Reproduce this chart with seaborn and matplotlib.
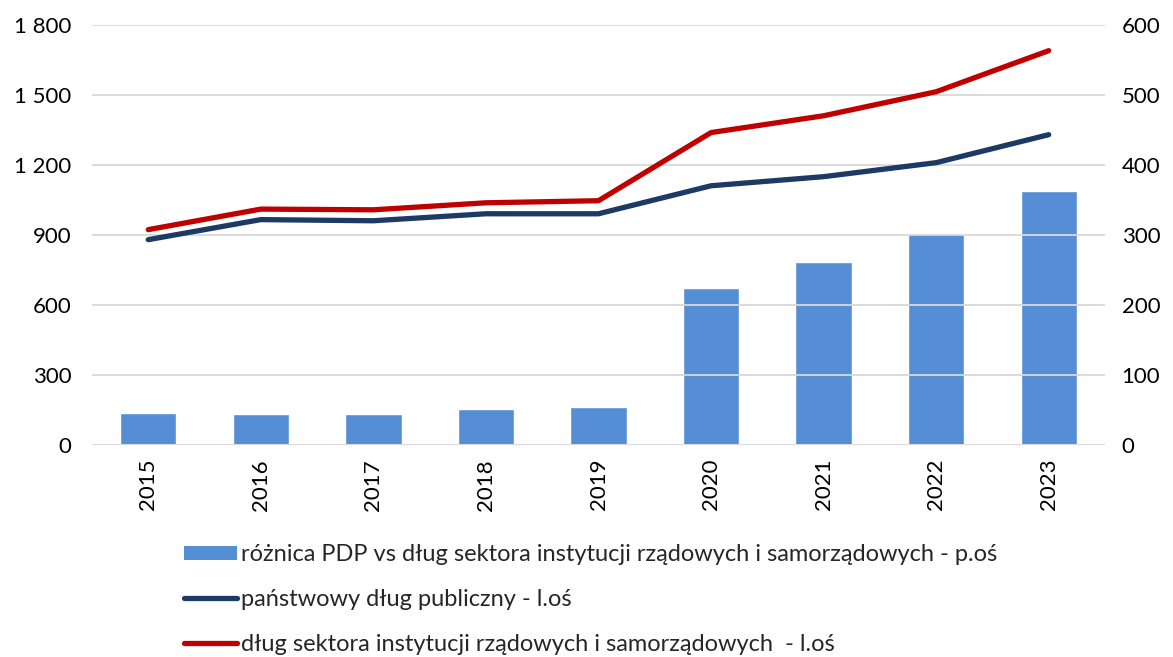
import numpy as np
import pandas as pd
import matplotlib
matplotlib.use("Agg")
import matplotlib.pyplot as plt
import seaborn as sns
from matplotlib.patches import Patch
from matplotlib.lines import Line2D

years = ["2015", "2016", "2017", "2018", "2019", "2020", "2021", "2022", "2023"]
roznica = [46, 44, 45, 51, 54, 224, 262, 302, 363]            # right axis
panstwowy = [880, 966, 961, 991, 991, 1111, 1150, 1210, 1330]  # left axis
sektor = [923, 1011, 1008, 1038, 1047, 1339, 1411, 1514, 1690]  # left axis

labels = [
    "różnica PDP vs dług sektora instytucji rządowych i samorządowych - p.oś",
    "państwowy dług publiczny - l.oś",
    "dług sektora instytucji rządowych i samorządowych  - l.oś",
]

c_bar = "#558ED5"
c_dark = "#1C3A63"
c_red = "#C00000"
c_grid = "#D9D9D9"

sns.set_theme(style="white")
plt.rcParams["font.family"] = ["Lato", "DejaVu Sans"]

df = pd.DataFrame({
    "year": years,
    "pos": np.arange(len(years)),
    "roznica": roznica,
    "panstwowy": panstwowy,
    "sektor": sektor,
})

fig = plt.figure(figsize=(11.73, 6.57), dpi=100)
ax = fig.add_axes([92 / 1173, 1 - 445 / 657, (1105 - 92) / 1173, 420 / 657])
ax2 = ax.twinx()

# bars on the right axis, drawn beneath the lines
sns.barplot(data=df, x="pos", y="roznica", ax=ax2, color=c_bar, width=0.5,
            saturation=1, order=list(range(len(years))))
ax2.set_ylim(0, 600)
ax2.set_yticks(range(0, 601, 100))

# lines on the left axis
sns.lineplot(data=df, x="pos", y="panstwowy", ax=ax, color=c_dark, linewidth=3.8,
             solid_capstyle="round")
sns.lineplot(data=df, x="pos", y="sektor", ax=ax, color=c_red, linewidth=3.8,
             solid_capstyle="round")
ax.set_ylim(0, 1800)
ax.set_yticks(range(0, 1801, 300))
ax.set_yticklabels([f"{v:,}".replace(",", " ") for v in range(0, 1801, 300)])
ax.set_xlim(-0.5, len(years) - 0.5)
ax.set_xticks(np.arange(len(years)))
ax.set_xticklabels(years, rotation=90)

ax.set_zorder(ax2.get_zorder() + 1)
ax.patch.set_visible(False)

ax.grid(axis="y", color=c_grid, linewidth=1.3)
ax.set_axisbelow(True)
for a in (ax, ax2):
    for s in ("top", "left", "right", "bottom"):
        a.spines[s].set_visible(False)
    a.set_xlabel("")
    a.set_ylabel("")
    a.tick_params(length=0, labelsize=16, colors="#000000")
ax.tick_params(axis="y", pad=15)
ax2.tick_params(axis="y", pad=12)
ax.tick_params(axis="x", pad=10)
ax.axhline(0, color=c_grid, linewidth=1.5, zorder=0)

handles = [
    Patch(facecolor=c_bar, edgecolor="none"),
    Line2D([0], [0], color=c_dark, linewidth=3.8, solid_capstyle="round"),
    Line2D([0], [0], color=c_red, linewidth=3.8, solid_capstyle="round"),
]
fig.legend(handles, labels, loc="upper left", bbox_to_anchor=(184 / 1173, 1 - 544 / 657),
           frameon=False, fontsize=17, handlelength=2.25, handleheight=0.55,
           handletextpad=0.15, labelspacing=1.02, borderaxespad=0, borderpad=0)

fig.savefig("out.png", dpi=100)
